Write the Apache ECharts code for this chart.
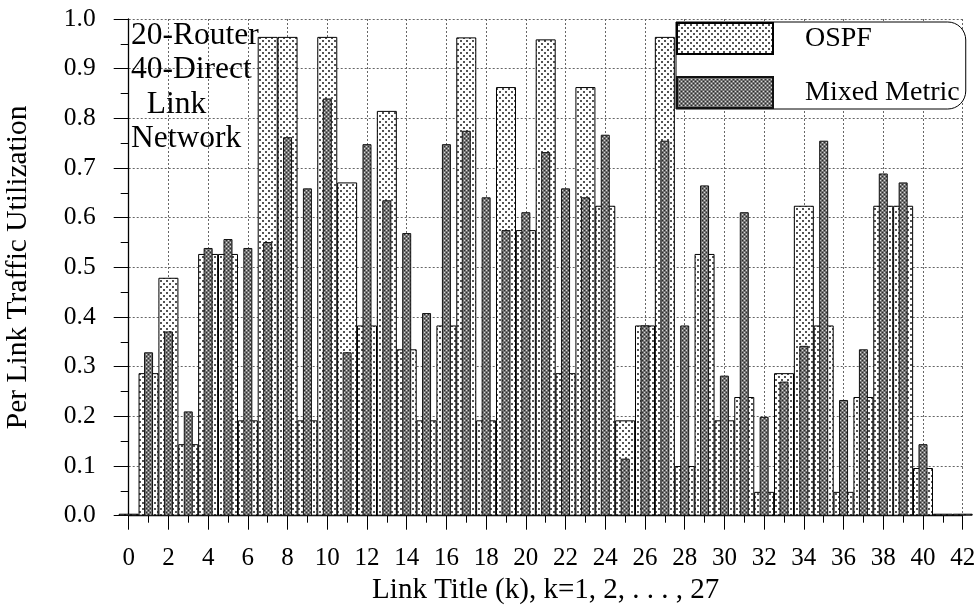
<!DOCTYPE html>
<html><head><meta charset="utf-8">
<script src="https://cdn.jsdelivr.net/npm/echarts@6/dist/echarts.min.js"></script>
<style>html,body{margin:0;padding:0;background:#fff}#c{width:979px;height:607px}</style>
</head><body><div id="c"></div>
<script>
// Link index k for OSPF series (0..42; 0, 41, 42 are near-zero slivers)
const ospfLinks = [0,1,2,3,4,5,6,7,8,9,10,11,12,13,14,15,16,17,18,19,20,21,22,23,24,25,26,27,28,29,30,31,32,33,34,35,36,37,38,39,40,41,42];
const ospfValues = [0.004,0.287,0.479,0.144,0.527,0.527,0.192,0.964,0.964,0.192,0.964,0.671,0.383,0.815,0.335,0.192,0.383,0.963,0.192,0.863,0.575,0.959,0.287,0.863,0.624,0.192,0.383,0.964,0.100,0.527,0.192,0.239,0.048,0.287,0.624,0.383,0.048,0.239,0.624,0.624,0.096,0.004,0.004];
const mixedLinks = [1,2,3,4,5,6,7,8,9,10,11,12,13,14,15,16,17,18,19,20,21,22,23,24,25,26,27,28,29,30,31,32,33,34,35,36,37,38,39,40];
const mixedValues = [0.329,0.371,0.210,0.539,0.557,0.539,0.551,0.762,0.659,0.840,0.329,0.748,0.635,0.569,0.408,0.748,0.775,0.641,0.575,0.611,0.732,0.659,0.641,0.767,0.115,0.383,0.755,0.383,0.665,0.282,0.611,0.199,0.270,0.342,0.755,0.233,0.335,0.689,0.671,0.144];
const seriesNames = ['OSPF', 'Mixed Metric'];
const xTitle = 'Link Title (k), k=1, 2, . . . , 27';
const yTitle = 'Per Link Traffic Utilization';
const noteText = '20-Router\n40-Direct\n  Link\nNetwork';

const FONT = '"Liberation Serif", "Times New Roman", serif';

function mkPattern(size, bg, dots) {
  const c = document.createElement('canvas');
  c.width = size; c.height = size;
  const g = c.getContext('2d');
  g.fillStyle = bg; g.fillRect(0, 0, size, size);
  dots.forEach(function (d) { g.fillStyle = d[4]; g.fillRect(d[0], d[1], d[2], d[3]); });
  return c;
}
const ospfPattern = mkPattern(6, '#ffffff', [[1,1,2,2,'#555555'],[4,4,2,2,'#555555']]);
const mixedPattern = mkPattern(4, '#747474', [[0,0,1,1,'#d8d8d8'],[2,2,1,1,'#d8d8d8'],[2,0,1,1,'#2a2a2a'],[0,2,1,1,'#2a2a2a']]);

const chart = echarts.init(document.getElementById('c'), null, {renderer: 'canvas'});

const gridLine = {show: true, lineStyle: {color: '#666', type: [2, 2], width: 1}};

chart.setOption({
  animation: false,
  backgroundColor: '#fff',
  textStyle: {fontFamily: FONT, color: '#000'},
  grid: {left: 128.7, right: 16.3, top: 19, bottom: 91.3, containLabel: false, outerBoundsMode: 'none'},
  xAxis: [{
    type: 'value', min: 0, max: 42, interval: 2,
    name: xTitle, nameLocation: 'middle', nameGap: 54,
    nameTextStyle: {fontFamily: FONT, fontSize: 29, color: '#000'},
    axisLine: {show: true, onZero: false, lineStyle: {color: '#000', width: 1.3}},
    axisTick: {show: true, length: 14, lineStyle: {color: '#000', width: 1}},
    minorTick: {show: true, splitNumber: 2, length: 7, lineStyle: {color: '#000', width: 1}},
    axisLabel: {fontFamily: FONT, fontSize: 25, color: '#000', margin: 30},
    splitLine: gridLine
  }, {
    type: 'value', min: 0, max: 42, interval: 2, show: false
  }],
  yAxis: {
    type: 'value', min: 0, max: 1, interval: 0.1,
    name: yTitle, nameLocation: 'middle', nameGap: 95,
    nameTextStyle: {fontFamily: FONT, fontSize: 29.5, color: '#000'},
    axisLine: {show: true, lineStyle: {color: '#000', width: 1.3}},
    axisTick: {show: true, length: 15, lineStyle: {color: '#000', width: 1}},
    minorTick: {show: true, splitNumber: 2, length: 8, lineStyle: {color: '#000', width: 1}},
    axisLabel: {fontFamily: FONT, fontSize: 25.5, color: '#000', margin: 33,
      formatter: function (v) { return v.toFixed(1); }},
    splitLine: gridLine
  },
  legend: {
    orient: 'vertical', left: 676, top: 22,
    itemWidth: 96, itemHeight: 31, itemGap: 21,
    padding: [0, 6, 0, 0],
    borderColor: '#000', borderWidth: 1, borderRadius: [0, 18, 18, 0],
    backgroundColor: '#fff',
    selectedMode: false,
    icon: 'rect',
    textStyle: {fontFamily: FONT, fontSize: 28, color: '#000', padding: [0, 0, 0, 27], width: 152, overflow: 'none'},
    data: seriesNames
  },
  graphic: [{
    type: 'text', left: 131, top: 18, z: 100,
    style: {text: noteText, font: '31.5px ' + FONT, lineHeight: 34.5, fill: '#000'}
  }],
  series: [{
    name: seriesNames[0], type: 'bar', xAxisIndex: 0, barWidth: 20, clip: true,
    itemStyle: {color: {image: ospfPattern, repeat: 'repeat'}, borderColor: '#000', borderWidth: 1},
    data: ospfLinks.map(function (k, i) { return [k, ospfValues[i]]; })
  }, {
    name: seriesNames[1], type: 'bar', xAxisIndex: 1, barWidth: 9, clip: true,
    itemStyle: {color: {image: mixedPattern, repeat: 'repeat'}, borderColor: '#111', borderWidth: 1},
    data: mixedLinks.map(function (k, i) { return [k, mixedValues[i]]; })
  }]
});
</script>
</body></html>
